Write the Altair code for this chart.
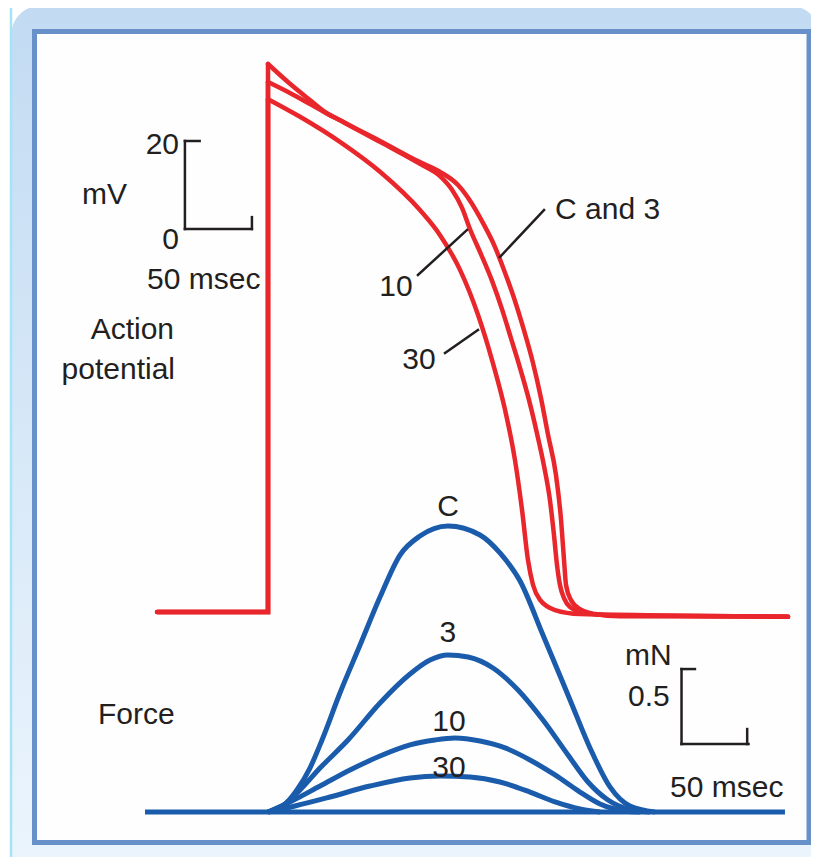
import altair as alt
import pandas as pd

# ---------------- data (time in ms, potential in mV, force in mN) ----------------
AP_SERIES = ["C and 3", "10", "30"]
REST_START_T = -82.8
REST_START_MV = -87.05

AP_C3_T = [0, 16.4, 31.3, 42.5, 57.5, 83.6, 113.4, 128.4, 141.8, 151.5, 160.4, 168.7, 176.1,
           183.6, 191.0, 197.8, 203.7, 209.0, 214.9, 218.7, 220.9, 222.4, 226.1, 232.8, 244.0,
           262.7, 388.1]
AP_C3_MV = [37.5, 33.0, 29.3, 26.6, 24.1, 20.0, 15.2, 13.0, 10.0, 6.1, 1.4, -3.6, -9.3,
            -15.7, -23.0, -30.5, -38.4, -46.8, -55.9, -66.1, -75.2, -80.9, -84.3, -86.4, -87.5,
            -88.0, -88.1]

AP_10_T = [0, 16.4, 31.3, 42.5, 57.5, 83.6, 113.4, 128.4, 137.3, 144.8, 150.7, 158.9, 167.2,
           174.6, 181.3, 188.1, 194.8, 200.7, 206.0, 210.4, 213.4, 215.7, 217.9, 220.9, 225.4,
           236.6, 255.2, 388.1]
AP_10_MV = [33.4, 30.9, 28.4, 26.5, 24.1, 19.8, 14.8, 12.0, 8.9, 4.8, 0.0, -5.7, -11.8,
            -18.2, -24.8, -31.6, -38.9, -46.4, -53.9, -61.6, -69.5, -76.4, -80.9, -83.9, -85.9,
            -87.3, -87.8, -88.1]

AP_30_T = [0, 23.9, 53.7, 83.6, 113.4, 128.4, 143.3, 156.7, 167.2, 176.9, 184.3, 189.6,
           194.0, 197.8, 203.0, 214.2, 232.8, 388.1]
AP_30_MV = [29.5, 25.5, 19.8, 13.0, 4.3, -1.4, -9.3, -19.5, -29.8, -41.1, -52.5, -63.9,
            -75.2, -80.9, -84.3, -86.6, -87.5, -88.1]

FORCE_SERIES = ["C", "3", "10", "30"]
FORCE_BASE_T = [-91.8, 385.8]
FORCE_BASE_MN = [0.0, 0.0]

F_C_T = [0, 11.2, 21.6, 31.3, 40.3, 53.7, 68.7, 83.6, 98.5, 113.4, 134.3, 158.2, 173.1,
         188.1, 205.2, 225.4, 240.3, 255.2, 270.1, 288.8]
F_C_MN = [0, 0.04, 0.147, 0.293, 0.48, 0.793, 1.113, 1.433, 1.713, 1.84, 1.907, 1.847, 1.727,
          1.54, 1.18, 0.747, 0.427, 0.167, 0.04, 0]

F_3_T = [0, 12.7, 23.9, 38.8, 59.7, 83.6, 106.0, 120.9, 134.3, 149.3, 167.9, 186.6, 205.2,
         223.9, 238.8, 253.7, 268.7, 285.1]
F_3_MN = [0, 0.053, 0.147, 0.293, 0.48, 0.727, 0.92, 1.013, 1.047, 1.033, 0.96, 0.813,
          0.613, 0.38, 0.2, 0.08, 0.02, 0]

F_10_T = [0, 16.4, 38.8, 61.2, 83.6, 106.0, 124.6, 139.6, 158.2, 176.9, 195.5, 214.2,
          232.8, 247.8, 266.4, 277.6]
F_10_MN = [0, 0.067, 0.173, 0.28, 0.373, 0.447, 0.48, 0.493, 0.473, 0.427, 0.347, 0.247,
           0.133, 0.053, 0.007, 0]

F_30_T = [0, 20.1, 46.3, 76.1, 106.0, 128.4, 150.7, 173.1, 195.5, 214.2, 232.8, 247.8]
F_30_MN = [0, 0.04, 0.1, 0.173, 0.227, 0.24, 0.233, 0.2, 0.133, 0.067, 0.02, 0]

# scale bars: 50 msec / 20 mV and 50 msec / 0.5 mN
AP_BAR_T0, AP_BAR_V0, AP_BAR_MS, AP_BAR_MV = -62.0, 0.0, 50.0, 20.0
F_BAR_T0, F_BAR_F0, F_BAR_MS, F_BAR_MN = 308.6, 0.453, 50.0, 0.5

# annotation texts
AP_TEXT = ["20", "0", "mV", "50 msec", "Action", "potential", "10", "30", "C and 3"]
AP_TEXT_T = [-66.4, -66.4, -138.8, -90.3, -70.1, -69.4, 95.5, 112.7, 214.2]
AP_TEXT_MV = [19.6, -2.0, 8.2, -11.1, -22.5, -31.6, -12.7, -29.3, 4.8]
AP_TEXT_ALIGN = ["right", "right", "left", "left", "right", "right", "center", "center", "left"]

# pointer lines for labels (ms, mV)
PTR_T = [111.9, 132.1, 173.1]
PTR_T2 = [148.5, 156.7, 206.0]
PTR_MV = [-10.45, -28.2, -6.36]
PTR_MV2 = [-0.23, -22.95, 4.32]

F_TEXT = ["C", "3", "10", "30", "Force", "mN", "0.5", "50 msec"]
F_TEXT_T = [134.3, 134.3, 135.1, 135.1, -126.9, 266.4, 268.7, 300.0]
F_TEXT_MN = [2.047, 1.207, 0.613, 0.307, 0.66, 1.053, 0.78, 0.173]
F_TEXT_ALIGN = ["center", "center", "center", "center", "left", "left", "left", "left"]

# ---------------- layout ----------------
W, H = 803, 849
PX_PER_MS = 67 / 50
X_ORIGIN = 260          # pixel of t = 0
PX_PER_MV = 88 / 20
AP_ZERO = 221           # pixel of 0 mV
PX_PER_MN = 75 / 0.5
F_ZERO = 804            # pixel of 0 mN

RED = "#E8262B"
BLUE = "#1A5CAB"
INK = "#231F20"
FONT = "Liberation Sans"
FS = 30

xs = alt.Scale(domain=[-X_ORIGIN / PX_PER_MS, (W - X_ORIGIN) / PX_PER_MS], nice=False, zero=False)
ys_ap = alt.Scale(domain=[(AP_ZERO - H) / PX_PER_MV, AP_ZERO / PX_PER_MV], nice=False, zero=False)
ys_f = alt.Scale(domain=[(F_ZERO - H) / PX_PER_MN, F_ZERO / PX_PER_MN], nice=False, zero=False)

# ---------------- tables ----------------
ap_curves = {"C and 3": (AP_C3_T, AP_C3_MV), "10": (AP_10_T, AP_10_MV), "30": (AP_30_T, AP_30_MV)}
rows = []
up_rows = []
for s in AP_SERIES:
    ts, vs = ap_curves[s]
    for i, (t, v) in enumerate(zip(ts, vs)):
        rows.append({"s": s, "i": i, "t": t, "v": v})
    up_rows += [{"s": s, "i": 0, "t": REST_START_T, "v": REST_START_MV},
                {"s": s, "i": 1, "t": ts[0], "v": REST_START_MV},
                {"s": s, "i": 2, "t": ts[0], "v": vs[0]}]
ap_df = pd.DataFrame(rows)
up_df = pd.DataFrame(up_rows)

f_curves = {"C": (F_C_T, F_C_MN), "3": (F_3_T, F_3_MN), "10": (F_10_T, F_10_MN), "30": (F_30_T, F_30_MN)}
frows = []
for s in FORCE_SERIES:
    ts, vs = f_curves[s]
    for i, (t, v) in enumerate(zip(ts, vs)):
        frows.append({"s": s, "i": i, "t": t, "v": v})
f_df = pd.DataFrame(frows)
fbase_df = pd.DataFrame({"t": FORCE_BASE_T, "v": FORCE_BASE_MN, "i": [0, 1]})

ap_bar = pd.DataFrame([
    {"t": AP_BAR_T0, "t2": AP_BAR_T0, "v": AP_BAR_V0, "v2": AP_BAR_V0 + AP_BAR_MV},
    {"t": AP_BAR_T0, "t2": AP_BAR_T0 + 11, "v": AP_BAR_V0 + AP_BAR_MV, "v2": AP_BAR_V0 + AP_BAR_MV},
    {"t": AP_BAR_T0, "t2": AP_BAR_T0 + AP_BAR_MS, "v": AP_BAR_V0, "v2": AP_BAR_V0},
    {"t": AP_BAR_T0 + AP_BAR_MS, "t2": AP_BAR_T0 + AP_BAR_MS, "v": AP_BAR_V0, "v2": AP_BAR_V0 + 2.7},
])
ptr_df = pd.DataFrame({"t": PTR_T, "t2": PTR_T2, "v": PTR_MV, "v2": PTR_MV2})
ap_bar = pd.concat([ap_bar, ptr_df], ignore_index=True)

f_bar = pd.DataFrame([
    {"t": F_BAR_T0, "t2": F_BAR_T0, "v": F_BAR_F0, "v2": F_BAR_F0 + F_BAR_MN},
    {"t": F_BAR_T0, "t2": F_BAR_T0 + 10, "v": F_BAR_F0 + F_BAR_MN, "v2": F_BAR_F0 + F_BAR_MN},
    {"t": F_BAR_T0, "t2": F_BAR_T0 + F_BAR_MS, "v": F_BAR_F0, "v2": F_BAR_F0},
    {"t": F_BAR_T0 + F_BAR_MS - 1, "t2": F_BAR_T0 + F_BAR_MS - 1, "v": F_BAR_F0, "v2": F_BAR_F0 + 0.1},
])

ap_text = pd.DataFrame({"label": AP_TEXT, "t": AP_TEXT_T, "v": AP_TEXT_MV, "align": AP_TEXT_ALIGN})
f_text = pd.DataFrame({"label": F_TEXT, "t": F_TEXT_T, "v": F_TEXT_MN, "align": F_TEXT_ALIGN})

# ---------------- frame ----------------
one = alt.Data(values=[{}])
outer = alt.Chart(one).mark_rect(
    cornerRadius=28,
    fill={"gradient": "linear", "x1": 0, "y1": 0, "x2": 0, "y2": 1,
          "stops": [{"offset": 0, "color": "#C2DBF2"}, {"offset": 1, "color": "#ECF5FD"}]},
).encode(x=alt.value(3.5), x2=alt.value(W + 8), y=alt.value(-2), y2=alt.value(H + 20))
cyan = alt.Chart(one).mark_rule(color="#A5E4F7", strokeWidth=2.5).encode(
    x=alt.value(3), y=alt.value(-2), y2=alt.value(H))
inner = alt.Chart(one).mark_rect(fill="#FEFEFE", stroke="#6891CA", strokeWidth=5).encode(
    x=alt.value(26.5), x2=alt.value(801), y=alt.value(23.5), y2=alt.value(834.5))

# ---------------- AP layers ----------------
X = alt.X("t:Q", scale=xs, axis=None)
X2 = alt.X2("t2:Q")
Yap = alt.Y("v:Q", scale=ys_ap, axis=None)
Yf = alt.Y("v:Q", scale=ys_f, axis=None)

ap_up = alt.Chart(up_df).mark_line(color=RED, strokeWidth=4.5, strokeCap="round", strokeJoin="miter").encode(
    x=X, y=Yap, detail="s:N", order="i:Q")
ap_line = alt.Chart(ap_df).mark_line(color=RED, strokeWidth=4.5, strokeCap="round",
                                     interpolate="monotone").encode(
    x=X, y=Yap, detail="s:N", order="i:Q")
ap_rules = alt.Chart(ap_bar).mark_rule(color=INK, strokeWidth=2.5, strokeCap="square").encode(
    x=X, x2=X2, y=Yap, y2=alt.Y2("v2:Q"))

def texts(df, y_enc):
    layers = []
    for a in ["left", "center", "right"]:
        sub = df[df["align"] == a]
        if len(sub):
            layers.append(alt.Chart(sub).mark_text(
                align=a, baseline="middle", dy=2, font=FONT, fontSize=FS, color=INK).encode(
                x=X, y=y_enc, text="label:N"))
    return layers

ap_layer = alt.layer(ap_up, ap_line, ap_rules, *texts(ap_text, Yap))

# ---------------- force layers ----------------
f_base = alt.Chart(fbase_df).mark_line(color=BLUE, strokeWidth=5, strokeCap="butt").encode(
    x=X, y=Yf, order="i:Q")
f_line = alt.Chart(f_df).mark_line(color=BLUE, strokeWidth=5, interpolate="monotone").encode(
    x=X, y=Yf, detail="s:N", order="i:Q")
f_rules = alt.Chart(f_bar).mark_rule(color=INK, strokeWidth=2.5, strokeCap="square").encode(
    x=X, x2=X2, y=Yf, y2=alt.Y2("v2:Q"))
f_layer = alt.layer(f_base, f_line, f_rules, *texts(f_text, Yf))

chart = alt.layer(outer, cyan, inner, f_layer, ap_layer).resolve_scale(
    x="independent", y="independent"
).properties(
    width=W, height=H, padding=0, autosize=alt.AutoSizeParams(type="none"), background="white"
).configure_view(stroke=None)

chart.save("out.html", embed_options={"renderer": "svg", "actions": False})
